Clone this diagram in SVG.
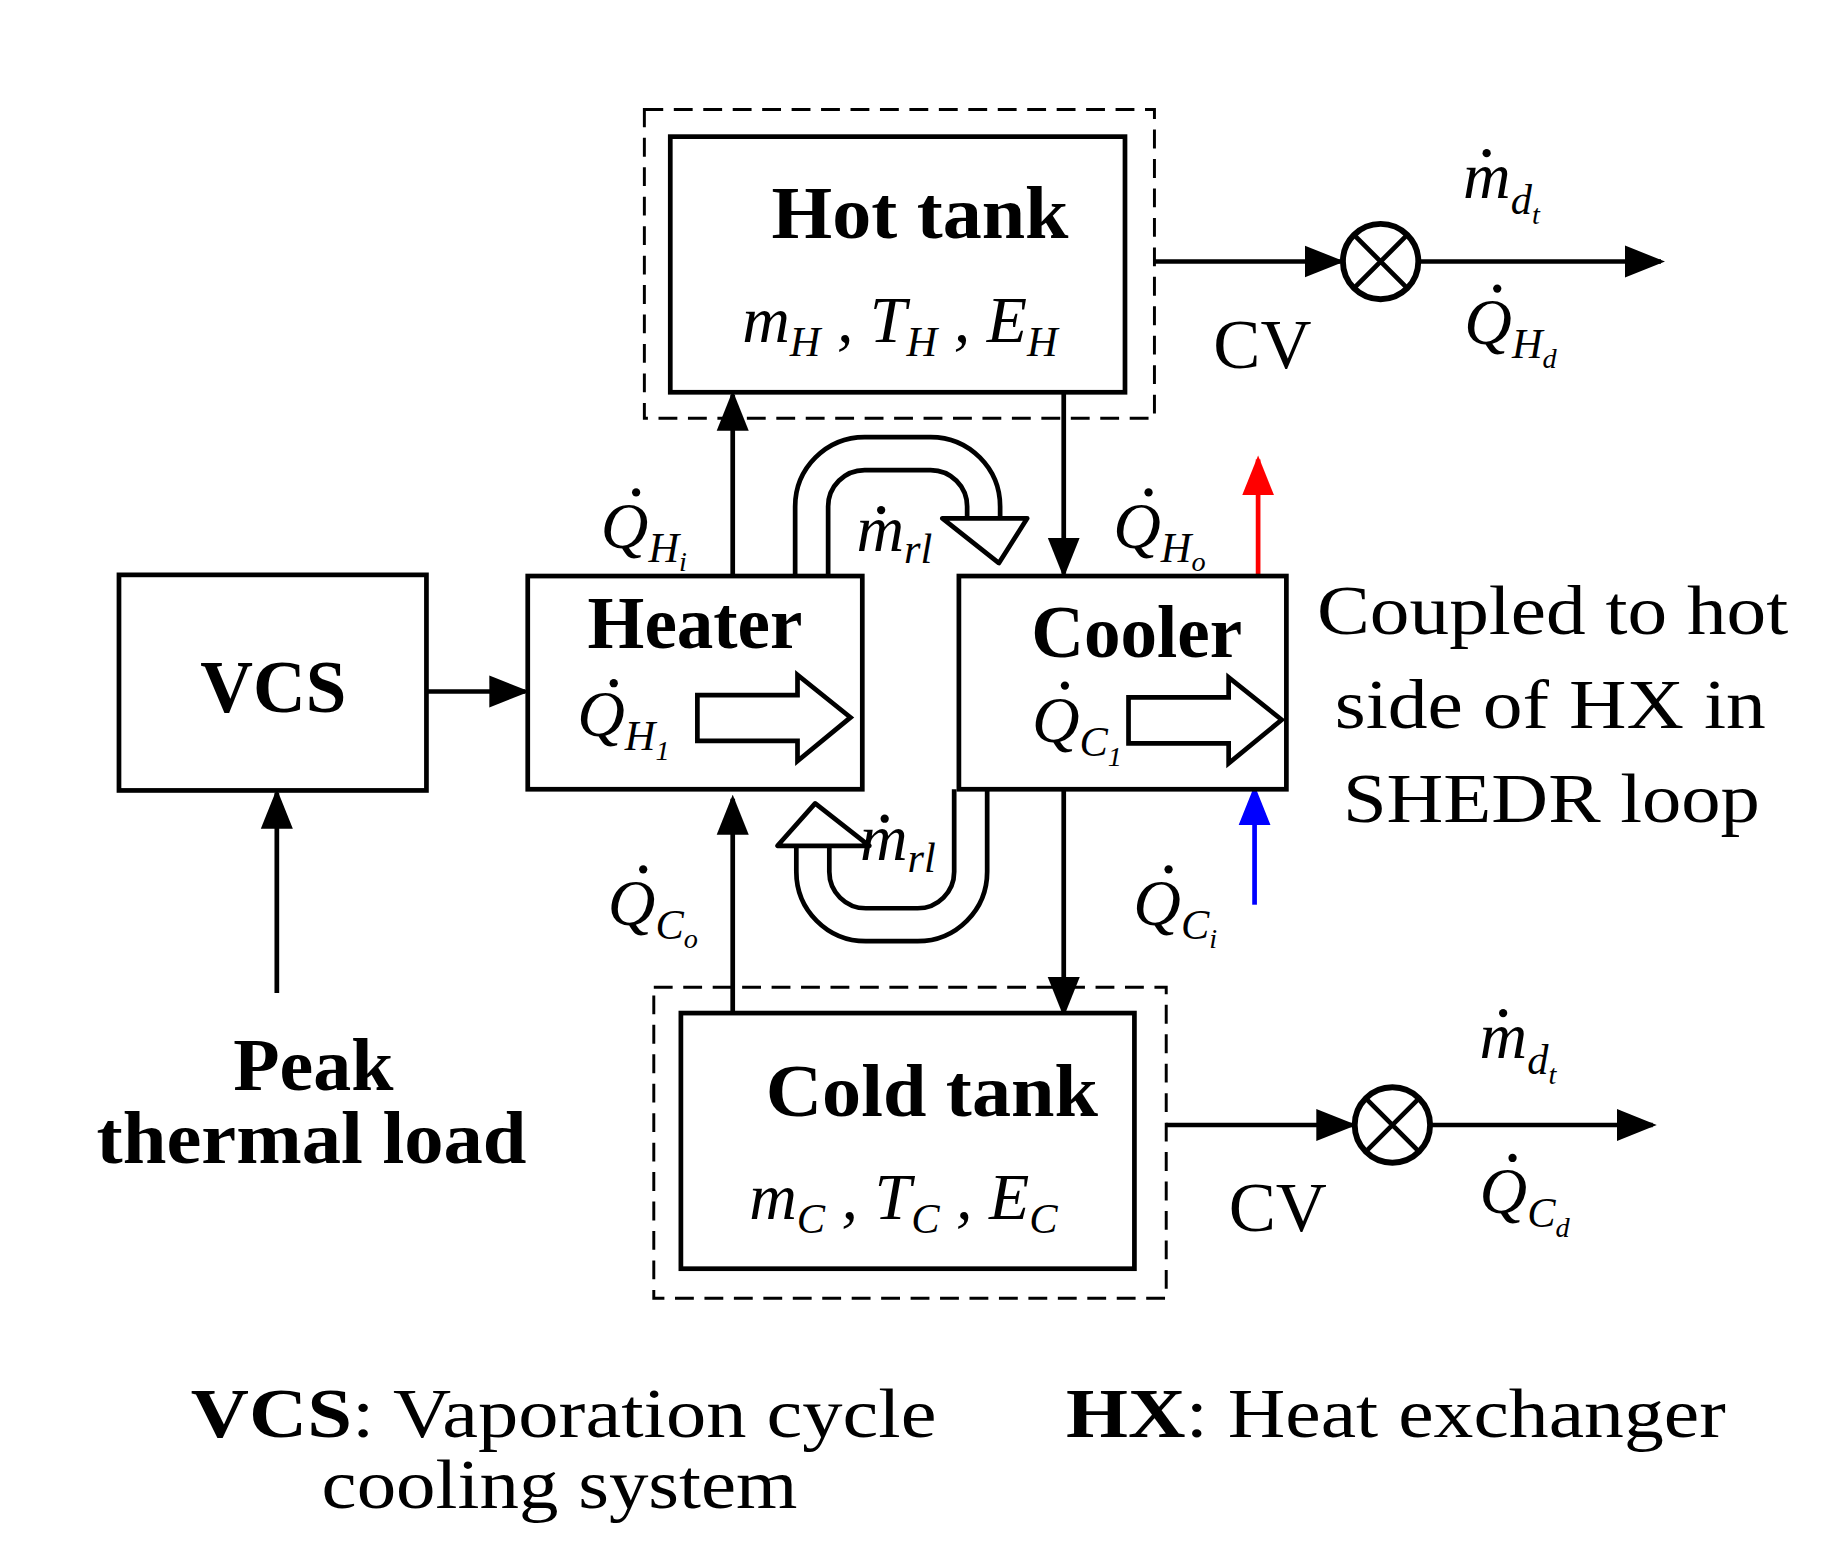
<svg xmlns="http://www.w3.org/2000/svg" width="1844" height="1564" viewBox="0 0 1844 1564">
<defs>
<style>
.box{fill:#fff;stroke:#000;stroke-width:4}
.dash{fill:none;stroke:#000;stroke-width:2.5;stroke-dasharray:16 9}
.ln{fill:none;stroke:#000;stroke-width:4}
.b{font-family:"Liberation Serif",serif;font-weight:bold;font-size:62px}
.n{font-family:"Liberation Serif",serif;font-size:60px}
.i{font-family:"Liberation Serif",serif;font-style:italic;font-size:56px}
.s{font-size:36px}
.ss{font-size:24px}
</style>
<marker id="ahb" viewBox="0 0 10 10" refX="9" refY="5" markerWidth="34" markerHeight="34" orient="auto" markerUnits="userSpaceOnUse"><path d="M0,1 L10,5 L0,9 z" fill="#000"/></marker>
<marker id="ahr" viewBox="0 0 10 10" refX="9" refY="5" markerWidth="34" markerHeight="34" orient="auto" markerUnits="userSpaceOnUse"><path d="M0,1 L10,5 L0,9 z" fill="#f00"/></marker>
<marker id="ahbl" viewBox="0 0 10 10" refX="9" refY="5" markerWidth="34" markerHeight="34" orient="auto" markerUnits="userSpaceOnUse"><path d="M0,1 L10,5 L0,9 z" fill="#00f"/></marker>
</defs>
<rect width="1844" height="1564" fill="#fff"/>
<g transform="scale(1.178)">
<g id="connectors">
<path class="ln" d="M362,587 H446" marker-end="url(#ahb)"/>
<path class="ln" d="M235,843 V673" marker-end="url(#ahb)"/>
<path class="ln" d="M622,489 V335" marker-end="url(#ahb)"/>
<path class="ln" d="M903,333 V487" marker-end="url(#ahb)"/>
<path class="ln" d="M903,670 V860" marker-end="url(#ahb)"/>
<path class="ln" d="M622,860 V678" marker-end="url(#ahb)"/>
<path d="M1068,489 V390" fill="none" stroke="#f00" stroke-width="4" marker-end="url(#ahr)"/>
<path d="M1065,768 V670" fill="none" stroke="#00f" stroke-width="4" marker-end="url(#ahbl)"/>
<path class="ln" d="M980,222 H1138" marker-end="url(#ahb)"/>
<path class="ln" d="M1205,222 H1410" marker-end="url(#ahb)"/>
<path class="ln" d="M990,955 H1148" marker-end="url(#ahb)"/>
<path class="ln" d="M1215,955 H1403" marker-end="url(#ahb)"/>
<path d="M689,489 V430 A45,45 0 0 1 734,385 H790 A45,45 0 0 1 835,430 V442" fill="none" stroke="#000" stroke-width="32"/>
<path d="M689,492 V430 A45,45 0 0 1 734,385 H790 A45,45 0 0 1 835,430 V446" fill="none" stroke="#fff" stroke-width="24"/>
<polygon points="800,440 872,440 848,478" fill="#fff" stroke="#000" stroke-width="4" stroke-linejoin="round"/>
<path d="M824,670 V740 A45,45 0 0 1 779,785 H735 A45,45 0 0 1 690,740 V718" fill="none" stroke="#000" stroke-width="32"/>
<path d="M824,667 V740 A45,45 0 0 1 779,785 H735 A45,45 0 0 1 690,740 V714" fill="none" stroke="#fff" stroke-width="24"/>
<polygon points="660,718 738,718 692,682" fill="#fff" stroke="#000" stroke-width="4" stroke-linejoin="round"/>
</g>
<g id="hot-tank">
<rect class="dash" x="547" y="93" width="433" height="262"/>
<rect class="box" x="569" y="116" width="386" height="217"/>
<text class="b" x="655" y="202" textLength="252" lengthAdjust="spacingAndGlyphs">Hot tank</text>
<text class="i" x="630" y="290">m<tspan class="s" dy="12">H</tspan><tspan dy="-12"> , T</tspan><tspan class="s" dy="12">H</tspan><tspan dy="-12"> , E</tspan><tspan class="s" dy="12">H</tspan></text>
</g>
<g id="cold-tank">
<rect class="dash" x="555" y="838" width="435" height="264"/>
<rect class="box" x="578" y="860" width="385" height="217"/>
<text class="b" x="650" y="947" textLength="282" lengthAdjust="spacingAndGlyphs">Cold tank</text>
<text class="i" x="636" y="1035">m<tspan class="s" dy="12">C</tspan><tspan dy="-12"> , T</tspan><tspan class="s" dy="12">C</tspan><tspan dy="-12"> , E</tspan><tspan class="s" dy="12">C</tspan></text>
</g>
<g id="vcs">
<rect class="box" x="101" y="488" width="261" height="183"/>
<text class="b" x="232" y="604" text-anchor="middle">VCS</text>
</g>
<g id="heater">
<rect class="box" x="448" y="489" width="284" height="181"/>
<text class="b" x="590" y="550" text-anchor="middle">Heater</text>
<text class="i" x="490" y="625">Q<tspan class="s" dy="12">H</tspan><tspan class="ss" dy="8">1</tspan></text>
<circle cx="521" cy="580" r="3.5"/>
<polygon points="592,590 677,590 677,573 722,609 677,646 677,629 592,629" fill="#fff" stroke="#000" stroke-width="4"/>
</g>
<g id="cooler">
<rect class="box" x="814" y="489" width="278" height="181"/>
<text class="b" x="965" y="558" text-anchor="middle">Cooler</text>
<text class="i" x="876" y="630">Q<tspan class="s" dy="12">C</tspan><tspan class="ss" dy="8">1</tspan></text>
<circle cx="904" cy="582" r="3.5"/>
<polygon points="958,592 1043,592 1043,575 1088,611 1043,648 1043,631 958,631" fill="#fff" stroke="#000" stroke-width="4"/>
</g>
<g id="mixer-hot">
<circle cx="1172" cy="222" r="32" fill="#fff" stroke="#000" stroke-width="5"/>
<path class="ln" d="M1149,199 L1195,245 M1195,199 L1149,245"/>
<text class="n" x="1030" y="312">CV</text>
<text class="i" x="1242" y="168">m<tspan class="s" dy="14">d</tspan><tspan class="ss" dy="8">t</tspan></text>
<circle cx="1262" cy="130" r="3.5"/>
<text class="i" x="1243" y="292">Q<tspan class="s" dy="12">H</tspan><tspan class="ss" dy="8">d</tspan></text>
<circle cx="1271" cy="245" r="3.5"/>
</g>
<g id="mixer-cold">
<circle cx="1182" cy="955" r="32" fill="#fff" stroke="#000" stroke-width="5"/>
<path class="ln" d="M1159,932 L1205,978 M1205,932 L1159,978"/>
<text class="n" x="1043" y="1045">CV</text>
<text class="i" x="1256" y="898">m<tspan class="s" dy="14">d</tspan><tspan class="ss" dy="8">t</tspan></text>
<circle cx="1276" cy="860" r="3.5"/>
<text class="i" x="1256" y="1030">Q<tspan class="s" dy="12">C</tspan><tspan class="ss" dy="8">d</tspan></text>
<circle cx="1284" cy="983" r="3.5"/>
</g>
<g id="labels">
<text class="i" x="510" y="465">Q<tspan class="s" dy="12">H</tspan><tspan class="ss" dy="8">i</tspan></text>
<circle cx="540" cy="418" r="3.5"/>
<text class="i" x="945" y="465">Q<tspan class="s" dy="12">H</tspan><tspan class="ss" dy="8">o</tspan></text>
<circle cx="975" cy="418" r="3.5"/>
<text class="i" x="516" y="785">Q<tspan class="s" dy="12">C</tspan><tspan class="ss" dy="8">o</tspan></text>
<circle cx="546" cy="738" r="3.5"/>
<text class="i" x="962" y="785">Q<tspan class="s" dy="12">C</tspan><tspan class="ss" dy="8">i</tspan></text>
<circle cx="992" cy="738" r="3.5"/>
<text class="i" x="727" y="468">m<tspan class="s" dy="10">rl</tspan></text>
<circle cx="748" cy="433" r="3.5"/>
<text class="i" x="730" y="730">m<tspan class="s" dy="10">rl</tspan></text>
<circle cx="751" cy="695" r="3.5"/>
<text class="n" x="1118" y="538" textLength="400" lengthAdjust="spacingAndGlyphs">Coupled to hot</text>
<text class="n" x="1133" y="618" textLength="366" lengthAdjust="spacingAndGlyphs">side of HX in</text>
<text class="n" x="1140" y="698" textLength="354" lengthAdjust="spacingAndGlyphs">SHEDR loop</text>
<text class="b" x="198" y="925" textLength="136" lengthAdjust="spacingAndGlyphs">Peak</text>
<text class="b" x="82" y="987" textLength="365" lengthAdjust="spacingAndGlyphs">thermal load</text>
<text class="n" x="162" y="1220" textLength="633" lengthAdjust="spacingAndGlyphs"><tspan font-weight="bold">VCS</tspan>: Vaporation cycle</text>
<text class="n" x="273" y="1280" textLength="404" lengthAdjust="spacingAndGlyphs">cooling system</text>
<text class="n" x="905" y="1220" textLength="560" lengthAdjust="spacingAndGlyphs"><tspan font-weight="bold">HX</tspan>: Heat exchanger</text>
</g>
</g>
</svg>
